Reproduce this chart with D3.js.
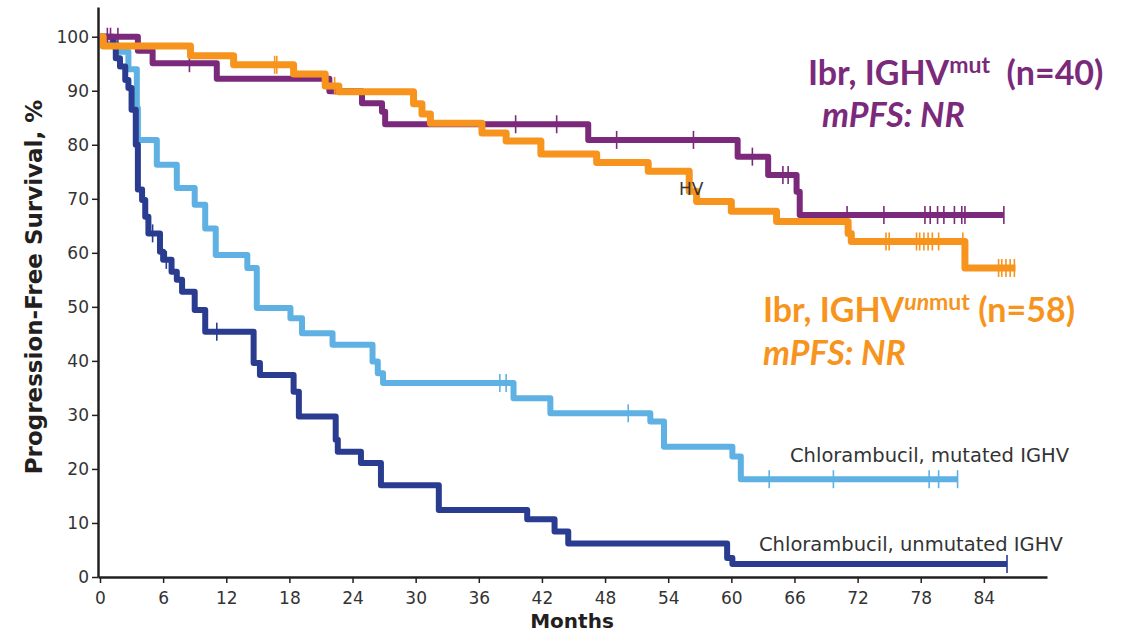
<!DOCTYPE html>
<html>
<head>
<meta charset="utf-8">
<script src="https://cdn.jsdelivr.net/npm/d3@7/dist/d3.min.js"></script>
<style>
  body { margin: 0; background: #fff; }
  svg { display: block; }
</style>
</head>
<body>
<svg id="chart" width="1136" height="634"></svg>
<script>
// tick labels
const monthTicks = [0, 6, 12, 18, 24, 30, 36, 42, 48, 54, 60, 66, 72, 78, 84]
const pctTicks = [0, 10, 20, 30, 40, 50, 60, 70, 80, 90, 100]

// each step is [month, % progression-free from that month on]
const ibrMutSteps = [[0, 100], [3.6, 97.4], [5.0, 95.1], [11.1, 92.2], [21.8, 89.9], [24.9, 87.7],
  [26.8, 86.1], [27.1, 83.8], [46.4, 80.9], [60.6, 77.8], [63.5, 74.4], [66.2, 71.3], [66.5, 67.0]]
const ibrMutEnd = 85.9
const ibrMutCensored = [0.7, 1.0, 1.7, 8.5, 39.5, 43.4, 49.1, 56.4, 62.0, 64.9, 65.4,
  71.0, 74.5, 78.4, 78.9, 79.6, 80.2, 81.2, 81.9, 82.2, 85.9]

const ibrUnmutSteps = [[0, 100], [0.3, 98.3], [8.6, 96.5], [12.7, 94.8], [18.4, 93.1], [21.4, 90.9],
  [22.7, 89.8], [29.8, 87.6], [30.6, 85.7], [31.4, 84.0], [36.3, 82.2], [38.6, 80.7], [41.9, 78.3],
  [47.2, 76.7], [52.1, 75.1], [56.0, 71.4], [56.7, 69.5], [60.0, 67.7], [64.3, 65.8], [71.1, 63.6],
  [71.4, 62.1], [82.2, 57.2]]
const ibrUnmutEnd = 87.0
const ibrUnmutCensored = [16.6, 16.8, 22.3, 74.7, 75.0, 77.6, 77.9, 78.3, 78.7, 79.1, 79.7, 82.0,
  85.4, 85.7, 86.1, 86.5, 86.9]

const chlMutSteps = [[0, 100], [0.5, 98.6], [1.6, 97.2], [2.7, 94.0], [3.5, 86.8], [3.6, 80.9],
  [5.4, 76.3], [7.3, 72.0], [9.0, 68.9], [10.0, 64.5], [11.0, 59.6], [14.0, 57.2], [14.9, 49.8],
  [18.1, 47.9], [19.2, 45.1], [22.1, 43.0], [25.9, 39.9], [26.4, 37.7], [26.9, 35.9], [39.3, 33.1],
  [42.8, 30.3], [52.3, 28.8], [53.6, 24.1], [60.1, 22.3], [60.9, 18.1]]
const chlMutEnd = 81.5
const chlMutCensored = [38.0, 38.6, 50.2, 63.6, 69.7, 78.8, 79.7, 81.5]

const chlUnmutSteps = [[0, 100], [1.3, 98.2], [1.5, 96.0], [1.9, 94.5], [2.4, 92.0], [2.7, 90.5],
  [3.0, 86.5], [3.4, 80.0], [3.6, 71.7], [4.0, 69.8], [4.3, 66.7], [4.6, 63.6], [5.7, 60.2],
  [6.0, 58.7], [6.8, 56.5], [7.3, 55.0], [7.8, 52.8], [9.0, 49.4], [10.0, 45.4], [14.6, 39.6],
  [15.2, 37.4], [18.4, 34.3], [18.9, 29.7], [22.4, 25.4], [22.6, 23.2], [24.8, 21.1], [26.7, 17.0],
  [32.2, 12.4], [40.6, 10.7], [43.2, 8.4], [44.5, 6.2], [59.6, 3.5], [60.1, 2.4]]
const chlUnmutEnd = 86.2
const chlUnmutCensored = [5.0, 6.3, 11.1, 86.2]

const purple = "#7b2a7b"
const orange = "#f7941d"
const lightBlue = "#5eb1e2"
const darkBlue = "#293c90"

const svg = d3.select("#chart")

const x = d3.scaleLinear().domain([0, 90]).range([100, 1047])
const y = d3.scaleLinear().domain([0, 105.5]).range([577, 7])

// survival value of a step curve at month t
const survAt = (steps, t) => {
  let v = steps[0][1]
  steps.forEach(s => { if (s[0] <= t) v = s[1] })
  return v
}

const line = d3.line()
  .x(d => x(d[0]))
  .y(d => y(d[1]))
  .curve(d3.curveStepAfter)

const drawCurve = (steps, end, censored, color, width) => {
  const pts = steps.concat([[end, steps[steps.length - 1][1]]])
  svg.append("path")
    .attr("d", line(pts))
    .attr("fill", "none")
    .attr("stroke", color)
    .attr("stroke-width", width)
    .attr("stroke-linejoin", "round")

  svg.append("g")
    .selectAll("line")
    .data(censored)
    .enter().append("line")
      .attr("x1", d => x(d))
      .attr("x2", d => x(d))
      .attr("y1", d => y(survAt(steps, d)) - 9)
      .attr("y2", d => y(survAt(steps, d)) + 9)
      .attr("stroke", color)
      .attr("stroke-width", 1.6)
}

drawCurve(chlMutSteps, chlMutEnd, chlMutCensored, lightBlue, 6)
drawCurve(chlUnmutSteps, chlUnmutEnd, chlUnmutCensored, darkBlue, 6)
drawCurve(ibrMutSteps, ibrMutEnd, ibrMutCensored, purple, 6)
drawCurve(ibrUnmutSteps, ibrUnmutEnd, ibrUnmutCensored, orange, 7)

// axes
const axisFont = "'DejaVu Sans', sans-serif"
const yAxis = svg.append("g")
  .attr("transform", "translate(98,0)")
  .call(d3.axisLeft(y).tickValues(pctTicks).tickSize(6).tickSizeOuter(0).tickPadding(3))
const xAxis = svg.append("g")
  .attr("transform", "translate(0,577)")
  .call(d3.axisBottom(x.copy().range([98, 1047])).tickValues([]).tickSizeOuter(0))
const xTicksG = svg.append("g")
  .attr("transform", "translate(0,577)")
  .call(d3.axisBottom(x).tickValues(monthTicks).tickSize(6).tickSizeOuter(0).tickPadding(9))
xTicksG.select(".domain").remove()

;[yAxis, xAxis].forEach(g => g.select(".domain").attr("stroke", "#231f20").attr("stroke-width", 2.5))
;[yAxis, xTicksG].forEach(g => {
  g.selectAll(".tick line").attr("stroke", "#231f20").attr("stroke-width", 1.5)
  g.selectAll(".tick text")
    .attr("fill", "#333")
    .style("font-family", axisFont)
    .style("font-size", "17px")
})

svg.append("text")
  .attr("transform", "translate(42,287) rotate(-90)")
  .attr("text-anchor", "middle")
  .attr("fill", "#231f20")
  .style("font-family", axisFont)
  .style("font-weight", "bold")
  .style("font-size", "23px")
  .text("Progression-Free Survival, %")

svg.append("text")
  .attr("x", 572).attr("y", 628)
  .attr("text-anchor", "middle")
  .attr("fill", "#231f20")
  .style("font-family", axisFont)
  .style("font-weight", "bold")
  .style("font-size", "20px")
  .text("Months")

// curve labels
const bigLabel = (xp, yp, color, parts) => {
  const t = svg.append("text")
    .attr("x", xp).attr("y", yp)
    .attr("fill", color)
    .style("font-family", "Lato, sans-serif")
    .style("font-weight", "bold")
    .style("font-size", "34px")
  parts.forEach(p => {
    const s = t.append("tspan").text(p.text)
    if (p.sup) s.style("font-size", "23px").attr("dy", p.dy)
    if (p.italic) s.style("font-style", "italic")
    if (p.down) s.attr("dy", p.down)
  })
}

bigLabel(808, 85, purple, [
  {text: "Ibr, IGHV"},
  {text: "mut", sup: true, dy: -12},
  {text: "\u00a0 (n=40)", down: 12}
])
bigLabel(822, 127, purple, [{text: "mPFS: NR", italic: true}])

bigLabel(763, 322, orange, [
  {text: "Ibr, IGHV"},
  {text: "un", sup: true, italic: true, dy: -12},
  {text: "mut", sup: true, dy: 0},
  {text: " (n=58)", down: 12}
])
bigLabel(763, 365, orange, [{text: "mPFS: NR", italic: true}])

const smallLabel = (xp, yp, txt, size) => {
  svg.append("text")
    .attr("x", xp).attr("y", yp)
    .attr("fill", "#333")
    .style("font-family", axisFont)
    .style("font-size", size + "px")
    .text(txt)
}
smallLabel(790, 462, "Chlorambucil, mutated IGHV", 19.5)
smallLabel(759, 551, "Chlorambucil, unmutated IGHV", 19.5)
smallLabel(679, 195, "HV", 17)
</script>
</body>
</html>
